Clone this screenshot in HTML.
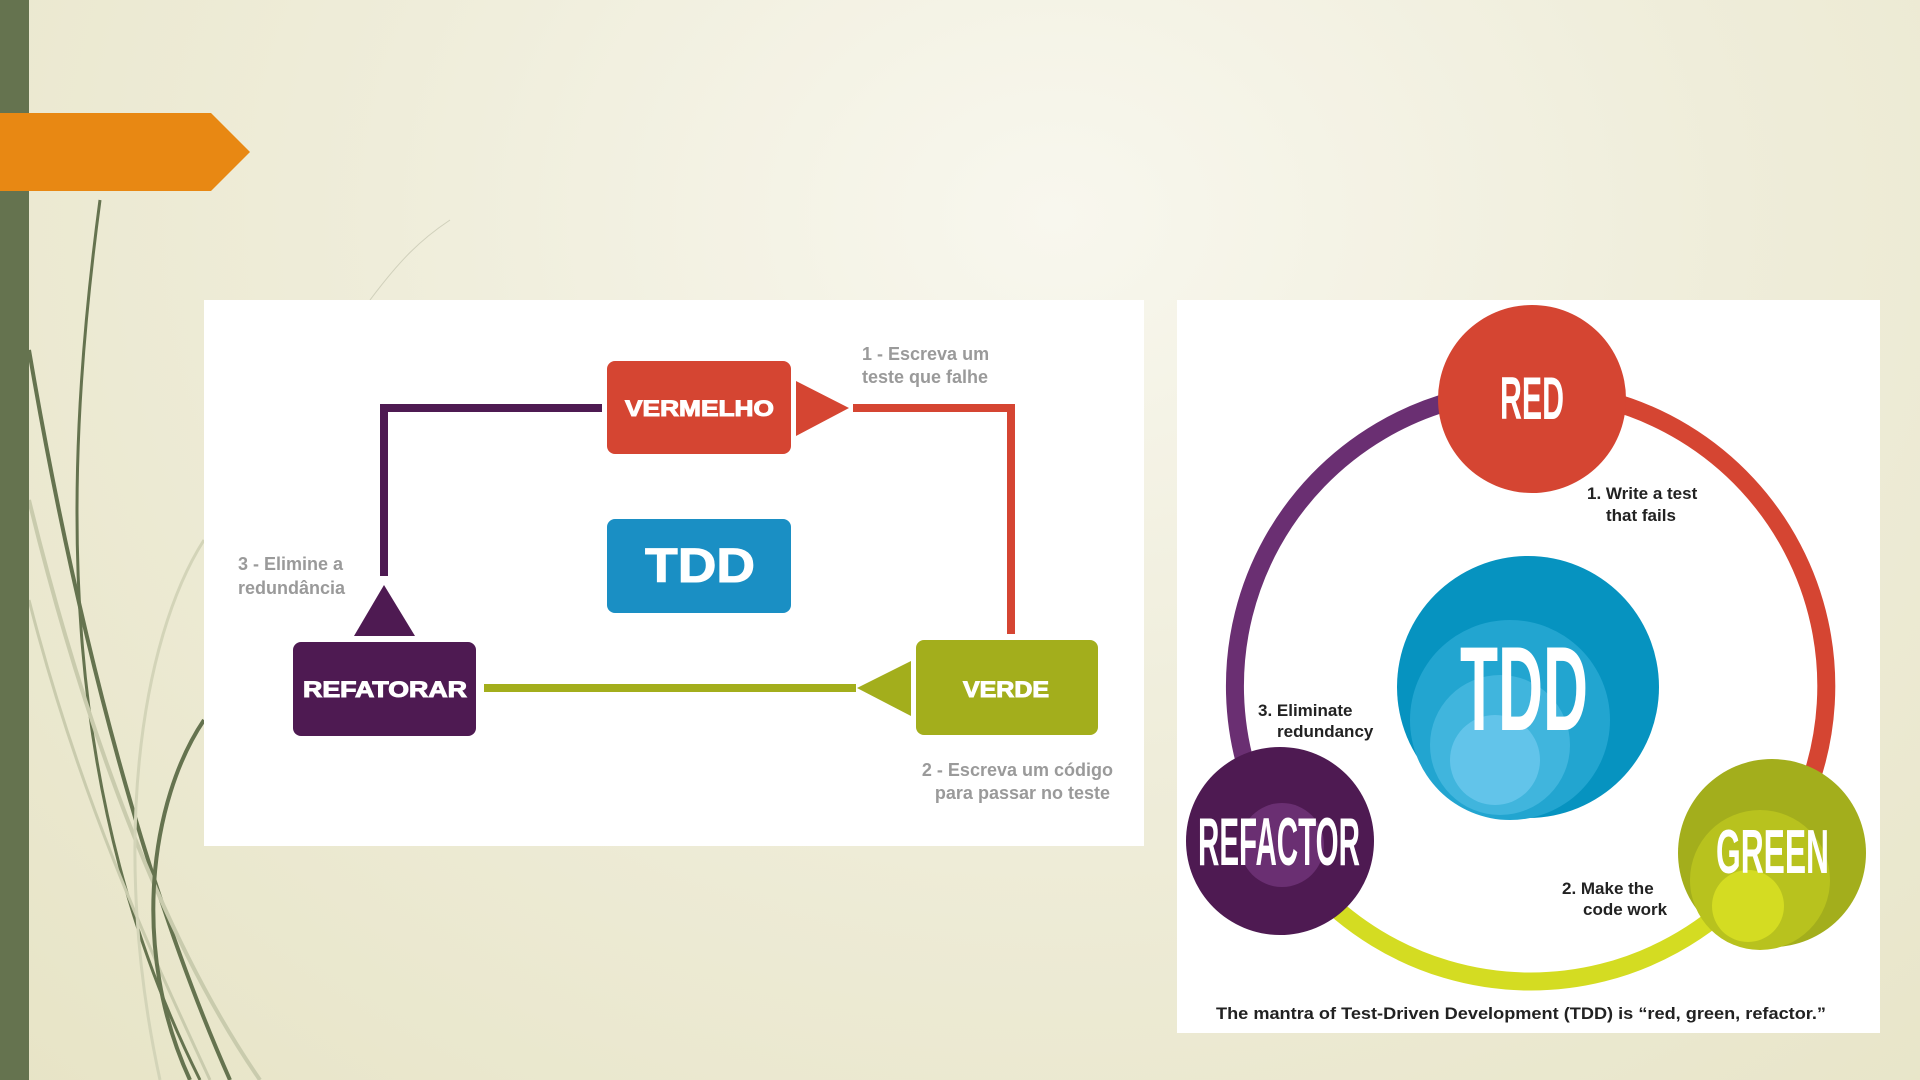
<!DOCTYPE html>
<html><head><meta charset="utf-8"><style>
html,body{margin:0;padding:0;width:1920px;height:1080px;overflow:hidden}
body{background:radial-gradient(ellipse at 55% 20%,#f8f7ee 0%,#efedda 45%,#e7e4c6 100%)}
svg{position:absolute;left:0;top:0}
.lbl{font-family:"Liberation Sans",sans-serif;font-weight:bold;fill:#9a9a9a;font-size:18px}
.box{font-family:"Liberation Sans",sans-serif;font-weight:900;fill:#fff;stroke:#fff;stroke-width:1}
.cond{font-family:"Liberation Sans",sans-serif;font-weight:bold;fill:#fff}
.en{font-family:"Liberation Sans",sans-serif;font-weight:bold;fill:#222;font-size:17px}
</style></head><body>
<svg width="1920" height="1080" viewBox="0 0 1920 1080">
<g fill="none">
<path d="M100 200 C 60 500, 60 800, 200 1080" stroke="#65734f" stroke-width="3"/>
<path d="M29 350 C 80 650, 150 900, 230 1080" stroke="#65734f" stroke-width="4"/>
<path d="M29 500 C 90 750, 170 950, 260 1080" stroke="#c9cbad" stroke-width="4"/>
<path d="M29 600 C 80 800, 150 950, 210 1080" stroke="#c9cbad" stroke-width="3"/>
<path d="M204 720 C 150 800, 130 950, 190 1080" stroke="#65734f" stroke-width="4"/>
<path d="M204 540 C 140 640, 110 850, 160 1080" stroke="#d3d4b8" stroke-width="3"/>
<path d="M370 300 C 400 260, 420 240, 450 220" stroke="#d0d0bb" stroke-width="1"/>
</g>
<rect x="0" y="0" width="29" height="1080" fill="#65734f"/>
<polygon points="0,113 211,113 250,152 211,191 0,191" fill="#e88813"/>

<rect x="204" y="300" width="940" height="546" fill="#fff"/>
<polyline points="602,408 384,408 384,576" fill="none" stroke="#4e1a52" stroke-width="8"/>
<polygon points="354,636 384,585 415,636" fill="#4e1a52"/>
<polyline points="853,408 1011,408 1011,634" fill="none" stroke="#d54532" stroke-width="8"/>
<polygon points="796,381 849,408 796,436" fill="#d54532"/>
<line x1="484" y1="688" x2="856" y2="688" stroke="#a3ae1c" stroke-width="8"/>
<polygon points="911,661 857,688 911,716" fill="#a3ae1c"/>
<rect x="607" y="361" width="184" height="93" rx="8" fill="#d54532"/>
<rect x="607" y="519" width="184" height="94" rx="8" fill="#1a8fc4"/>
<rect x="293" y="642" width="183" height="94" rx="8" fill="#4e1a52"/>
<rect x="916" y="640" width="182" height="95" rx="8" fill="#a3ae1c"/>
<text x="625" y="416" class="box" font-size="22" textLength="149" lengthAdjust="spacingAndGlyphs">VERMELHO</text>
<text x="645" y="582" class="box" font-size="48" stroke-width="2" textLength="110" lengthAdjust="spacingAndGlyphs">TDD</text>
<text x="303" y="697" class="box" font-size="22" textLength="164" lengthAdjust="spacingAndGlyphs">REFATORAR</text>
<text x="963" y="697" class="box" font-size="22" textLength="86" lengthAdjust="spacingAndGlyphs">VERDE</text>
<text x="862" y="360" class="lbl">1 - Escreva um</text>
<text x="862" y="383" class="lbl">teste que falhe</text>
<text x="238" y="570" class="lbl">3 - Elimine a</text>
<text x="238" y="594" class="lbl">redundância</text>
<text x="1113" y="776" class="lbl" text-anchor="end">2 - Escreva um código</text>
<text x="1110" y="799" class="lbl" text-anchor="end">para passar no teste</text>

<rect x="1177" y="300" width="703" height="733" fill="#fff"/>
<path d="M1280 843 A296 296 0 0 1 1531 390" fill="none" stroke="#6a2f72" stroke-width="18"/>
<path d="M1531 390 A296 296 0 0 1 1774 854" fill="none" stroke="#d54532" stroke-width="18"/>
<path d="M1774 854 A296 296 0 0 1 1280 843" fill="none" stroke="#d4dc22" stroke-width="18"/>
<circle cx="1532" cy="399" r="94" fill="#d54532"/>
<circle cx="1528" cy="687" r="131" fill="#0693c0"/>
<circle cx="1510" cy="720" r="100" fill="#22a5d0"/>
<circle cx="1500" cy="745" r="70" fill="#40b5dd"/>
<circle cx="1495" cy="760" r="45" fill="#62c4ea"/>
<circle cx="1280" cy="841" r="94" fill="#4e1a52"/>
<circle cx="1282" cy="845" r="42" fill="#6a2f72"/>
<circle cx="1772" cy="853" r="94" fill="#a3ae1c"/>
<circle cx="1760" cy="880" r="70" fill="#b8c21e"/>
<circle cx="1748" cy="906" r="36" fill="#d4dc22"/>
<text x="1500" y="419" class="cond" font-size="60" textLength="64" lengthAdjust="spacingAndGlyphs">RED</text>
<text x="1460" y="730" class="cond" font-size="120" textLength="128" lengthAdjust="spacingAndGlyphs">TDD</text>
<text x="1198" y="865" class="cond" font-size="68" textLength="162" lengthAdjust="spacingAndGlyphs">REFACTOR</text>
<text x="1716" y="873" class="cond" font-size="62" textLength="113" lengthAdjust="spacingAndGlyphs">GREEN</text>
<text x="1587" y="499" class="en">1. Write a test</text>
<text x="1606" y="521" class="en">that fails</text>
<text x="1258" y="716" class="en">3. Eliminate</text>
<text x="1277" y="737" class="en">redundancy</text>
<text x="1562" y="894" class="en">2. Make the</text>
<text x="1583" y="915" class="en">code work</text>
<text x="1216" y="1019" class="en" font-size="17.5" textLength="610" lengthAdjust="spacingAndGlyphs">The mantra of Test-Driven Development (TDD) is “red, green, refactor.”</text>
</svg>
</body></html>
